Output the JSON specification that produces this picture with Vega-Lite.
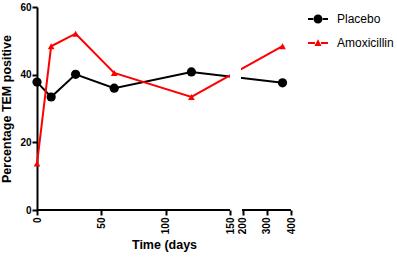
{
  "$schema": "https://vega.github.io/schema/vega-lite/v6.json",
  "width": 254,
  "height": 203,
  "autosize": {"type": "none"},
  "padding": {"left": 37, "top": 7, "right": 106, "bottom": 48},
  "config": {
    "view": {"stroke": null},
    "font": "Liberation Sans",
    "axis": {"grid": false, "labelColor": "black", "titleColor": "black", "tickColor": "black", "domainColor": "black", "labelFont": "Liberation Sans", "titleFont": "Liberation Sans"},
    "legend": {
      "orient": "none", "legendX": 271, "legendY": 2, "padding": 0,
      "labelFontSize": 12, "labelFont": "Liberation Sans", "labelColor": "black",
      "symbolSize": 400, "labelOffset": 9, "rowPadding": 4, "symbolStrokeWidth": 0
    }
  },
  "data": {
    "values": [
      {"day": 0, "pct": 37.8, "group": "Placebo"},
      {"day": 11, "pct": 33.4, "group": "Placebo"},
      {"day": 30, "pct": 40.1, "group": "Placebo"},
      {"day": 60, "pct": 36.0, "group": "Placebo"},
      {"day": 120, "pct": 40.8, "group": "Placebo"},
      {"day": 365, "pct": 37.6, "group": "Placebo"},
      {"day": 0, "pct": 13.7, "group": "Amoxicillin"},
      {"day": 11, "pct": 48.4, "group": "Amoxicillin"},
      {"day": 30, "pct": 52.1, "group": "Amoxicillin"},
      {"day": 60, "pct": 40.5, "group": "Amoxicillin"},
      {"day": 120, "pct": 33.4, "group": "Amoxicillin"},
      {"day": 365, "pct": 48.4, "group": "Amoxicillin"}
    ]
  },
  "layer": [
    {
      "mark": {"type": "line", "strokeWidth": 2},
      "encoding": {
        "x": {
          "field": "day", "type": "quantitative",
          "scale": {"domain": [0, 150, 200, 400], "range": [0, 193, 205.5, 254], "nice": false, "zero": false},
          "axis": {
            "values": [0, 50, 100, 150, 200, 300, 400],
            "labelAngle": -90, "labelFontSize": 10, "labelFontWeight": "bold",
            "labelFlush": false, "labelOverlap": false, "labelPadding": 2,
            "tickSize": 5, "tickWidth": 2, "domain": false,
            "title": "Time (days", "titleFontSize": 12.5, "titleFontWeight": "bold", "titlePadding": 5
          }
        },
        "y": {
          "field": "pct", "type": "quantitative",
          "scale": {"domain": [0, 60], "nice": false},
          "axis": {
            "values": [0, 20, 40, 60], "labelFontSize": 10, "labelFontWeight": "bold",
            "labelPadding": 1, "tickSize": 5, "tickWidth": 2, "domainWidth": 2,
            "title": "Percentage TEM positive", "titleFontSize": 12.5, "titleFontWeight": "bold", "titlePadding": 6
          }
        },
        "color": {
          "field": "group", "type": "nominal",
          "scale": {"domain": ["Placebo", "Amoxicillin"], "range": ["black", "#ff0000"]},
          "legend": {
            "title": null,
            "rowPadding": 8,
            "encode": {
              "symbols": {
                "update": {
                  "shape": {"signal": "datum.value === 'Placebo' ? 'M-1,-0.1H-0.4V0.1H-1Z M0.4,-0.1H1V0.1H0.4Z M-0.45,0A0.45,0.45 0 1,0 0.45,0A0.45,0.45 0 1,0 -0.45,0Z' : 'M-1,-0.1H-0.3V0.1H-1Z M0.3,-0.1H1V0.1H0.3Z M0,-0.38L0.36,0.3L-0.36,0.3Z'"},
                  "fill": {"signal": "datum.value === 'Placebo' ? 'black' : '#ff0000'"},
                  "strokeWidth": {"value": 0},
                  "opacity": {"value": 1}
                }
              }
            }
          }
        },
        "detail": {"field": "group"}
      }
    },
    {
      "mark": {"type": "rect", "color": "white"},
      "encoding": {
        "x": {"datum": 152, "type": "quantitative", "scale": {"domain": [0, 150, 200, 400], "range": [0, 193, 205.5, 254], "nice": false, "zero": false}},
        "x2": {"datum": 194},
        "y": {"datum": 0, "type": "quantitative"},
        "y2": {"datum": 60}
      }
    },
    {
      "mark": {"type": "rule", "color": "black", "strokeWidth": 2},
      "encoding": {
        "x": {"datum": 0, "type": "quantitative"},
        "x2": {"datum": 150},
        "y": {"datum": 0, "type": "quantitative"}
      }
    },
    {
      "mark": {"type": "rule", "color": "black", "strokeWidth": 2},
      "encoding": {
        "x": {"datum": 200, "type": "quantitative"},
        "x2": {"datum": 400},
        "y": {"datum": 0, "type": "quantitative"}
      }
    },
    {
      "transform": [{"filter": "datum.group === 'Placebo'"}],
      "mark": {"type": "point", "filled": true, "opacity": 1, "shape": "circle", "size": 85},
      "encoding": {
        "x": {"field": "day", "type": "quantitative"},
        "y": {"field": "pct", "type": "quantitative"},
        "color": {"field": "group", "type": "nominal"}
      }
    },
    {
      "transform": [{"filter": "datum.group === 'Amoxicillin'"}],
      "mark": {"type": "point", "filled": true, "opacity": 1, "shape": "triangle-up", "size": 45},
      "encoding": {
        "x": {"field": "day", "type": "quantitative"},
        "y": {"field": "pct", "type": "quantitative"},
        "color": {"field": "group", "type": "nominal"}
      }
    }
  ]
}
